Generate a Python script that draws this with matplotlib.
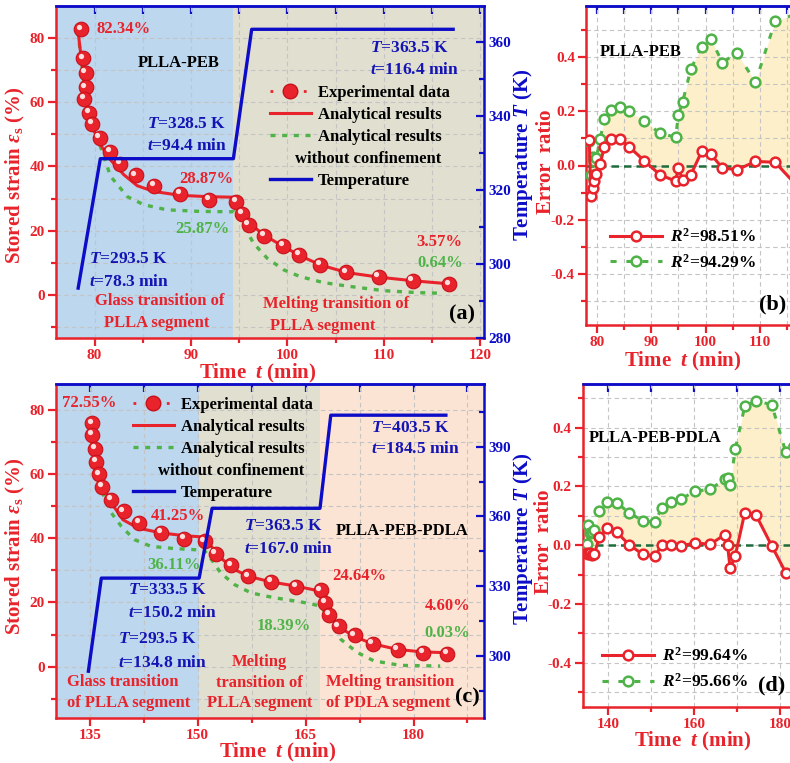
import numpy as np
import matplotlib
matplotlib.use('Agg')
import matplotlib.pyplot as plt
from matplotlib.ticker import MultipleLocator, NullFormatter
from matplotlib.lines import Line2D
import matplotlib.transforms as mtransforms

plt.rcParams['font.family'] = ['Liberation Serif', 'DejaVu Serif']
plt.rcParams['font.weight'] = 'bold'
plt.rcParams['axes.labelweight'] = 'bold'
plt.rcParams['mathtext.fontset'] = 'custom'
plt.rcParams['mathtext.rm'] = 'Liberation Serif:bold'
plt.rcParams['mathtext.it'] = 'Liberation Serif:italic:bold'
plt.rcParams['mathtext.bf'] = 'Liberation Serif:bold'
plt.rcParams['axes.unicode_minus'] = False

# ---------------- data: panel (a) PLLA-PEB ----------------
t_exp_a = [78.62, 78.79, 79.07, 79.07, 78.93, 79.41, 79.76, 80.52, 81.59, 82.69, 84.25, 86.15,
           88.9, 91.85, 94.65, 95.3, 95.99, 97.55, 99.55, 101.24, 103.42, 106.11, 109.46, 113.0, 116.82]
s_exp_a = [82.6, 73.6, 69.1, 64.6, 60.9, 56.7, 53.2, 48.8, 44.6, 40.8, 37.2, 34.0,
           31.5, 29.6, 28.9, 25.2, 21.8, 18.4, 15.4, 12.5, 9.4, 7.1, 5.6, 4.45, 3.4]
t_ana_a = [78.27, 78.72, 79.3, 80.27, 81.66, 83.04, 84.42, 86.15, 88.9, 91.67, 94.65, 95.13,
           96.0, 97.55, 99.6, 101.3, 103.4, 106.2, 109.5, 113.1, 116.9]
s_ana_a = [82.4, 71.0, 57.6, 48.2, 42.0, 37.4, 34.0, 32.2, 31.0, 30.6, 30.4, 26.5,
           22.6, 18.7, 15.1, 12.3, 9.4, 7.0, 5.6, 4.45, 3.5]
t_nc_a = [78.27, 78.9, 79.6, 80.6, 81.66, 83.4, 85.1, 87.5, 91.0, 94.44, 95.13, 96.5,
          97.9, 99.6, 101.3, 103.75, 106.5, 110.0, 113.4, 115.85]
s_nc_a = [81.9, 65.8, 53.4, 46.2, 36.9, 30.6, 28.1, 26.5, 26.0, 25.9, 23.4, 16.1,
          11.5, 7.9, 5.8, 3.9, 2.7, 1.4, 0.8, 0.6]
t_temp_a = [78.3, 80.6, 94.4, 96.3, 117.2]
T_temp_a = [293.5, 328.5, 328.5, 363.5, 363.5]
regions_a = [(76.0, 94.4, '#bdd7ee'), (94.4, 120.4, '#e0dfd0')]

# ---------------- data: panel (b) error ratio PLLA-PEB ----------------
t_err_b = [78.6, 78.9, 79.2, 79.5, 79.9, 80.6, 81.4, 82.6, 84.2, 86.0, 88.7, 91.6, 94.5,
           95.0, 95.8, 97.3, 99.3, 101.0, 103.1, 105.8, 109.2, 112.8, 116.6]
err_red_b = [0.095, -0.111, -0.084, -0.059, -0.03, 0.006, 0.07, 0.098, 0.098, 0.068, 0.018,
             -0.034, -0.058, -0.009, -0.055, -0.034, 0.052, 0.041, -0.009, -0.016, 0.015, 0.012, -0.07]
err_grn_b = [0.09, -0.034, 0.03, 0.018, 0.028, 0.098, 0.172, 0.206, 0.215, 0.2, 0.166,
             0.119, 0.105, 0.185, 0.236, 0.357, 0.44, 0.468, 0.381, 0.416, 0.308, 0.533, 0.56]
r2_b = ['98.51%', '94.29%']

# ---------------- data: panel (c) PLLA-PEB-PDLA ----------------
t_exp_c = [135.3, 135.3, 135.7, 135.9, 136.25, 136.75, 138.0, 139.7, 141.9, 144.9, 148.1,
           150.95, 152.5, 154.6, 157.0, 160.2, 163.7, 167.1, 167.7, 168.3, 169.6, 171.8,
           174.3, 177.8, 181.3, 184.7]
s_exp_c = [75.9, 72.2, 67.9, 63.9, 60.0, 56.0, 52.0, 48.4, 44.8, 41.7, 39.8, 39.1, 35.2,
           31.6, 28.2, 26.4, 24.8, 23.8, 19.9, 16.2, 12.6, 9.8, 7.2, 5.2, 4.35, 4.1]
t_ana_c = [134.86, 135.2, 135.8, 136.6, 138.0, 139.6, 141.7, 144.9, 148.2, 150.95, 151.9,
           153.2, 155.1, 157.0, 160.2, 163.7, 167.1, 167.6, 168.5, 169.6, 171.7, 174.2,
           177.7, 181.2, 184.65]
s_ana_c = [76.4, 70.7, 64.5, 57.2, 51.0, 45.8, 43.2, 41.7, 40.8, 40.4, 37.5, 33.9, 30.3,
           28.2, 26.4, 25.1, 23.5, 20.4, 15.8, 12.4, 9.5, 7.2, 5.4, 4.6, 4.35]
t_nc_c = [134.86, 135.7, 136.6, 138.0, 139.4, 141.2, 143.5, 146.8, 150.9, 151.9, 153.2,
          155.1, 157.4, 160.6, 164.3, 167.1, 168.0, 169.9, 172.2, 174.5, 178.2, 183.7]
s_nc_c = [75.9, 65.5, 55.1, 47.9, 43.7, 39.6, 37.5, 36.8, 36.3, 33.4, 29.2, 25.6, 23.0,
          21.5, 20.2, 18.9, 15.8, 8.5, 4.4, 1.8, 0.4, 0.2]
t_temp_c = [134.8, 136.6, 150.2, 152.0, 167.0, 168.5, 184.5]
T_temp_c = [293.5, 333.5, 333.5, 363.5, 363.5, 403.5, 403.5]
regions_c = [(130.0, 150.2, '#bdd7ee'), (150.2, 167.0, '#e0dfd0'), (167.0, 190.5, '#fbe4d4')]

# ---------------- data: panel (d) error ratio PLLA-PEB-PDLA ----------------
t_err_d = [135.1, 135.3, 135.6, 136.1, 136.7, 137.9, 139.6, 141.9, 144.8, 148.0, 150.9,
           152.4, 154.6, 156.9, 160.2, 163.7, 167.2, 167.8, 168.4, 169.6, 171.8, 174.4,
           178.1, 181.4, 184.7]
err_red_d = [-0.028, -0.03, -0.025, -0.034, -0.031, 0.028, 0.057, 0.045, 0.002, -0.031,
             -0.037, 0.0, 0.002, -0.003, 0.008, 0.003, 0.036, 0.0, -0.079, -0.036, 0.11,
             0.104, -0.002, -0.094, -0.1]
err_grn_d = [0.003, 0.068, 0.04, 0.045, 0.051, 0.116, 0.148, 0.145, 0.111, 0.083, 0.079,
             0.127, 0.148, 0.157, 0.184, 0.19, 0.225, 0.229, 0.204, 0.327, 0.473, 0.491,
             0.479, 0.316, 0.40]
r2_d = ['99.64%', '95.66%']

RED = '#e8232b'
RED_DARK = '#c8101a'
BLUE = '#0d0dc8'
TBLUE = '#1414b4'
GREEN = '#4fb348'
GRID = '#c4c4c4'
FILL = '#fdefc9'
ZERO = '#1e6b3c'
BOLD = 'bold'

W, H = 790, 763
fig = plt.figure(figsize=(W / 100, H / 100), dpi=100)


def axes_px(left, top, width, height):
    return fig.add_axes([left / W, 1 - (top + height) / H, width / W, height / H])


def style_left(ax, xmaj, xmin, ymaj, ymin, topstep):
    ax.xaxis.set_major_locator(MultipleLocator(xmaj))
    ax.xaxis.set_minor_locator(MultipleLocator(xmin))
    ax.yaxis.set_major_locator(MultipleLocator(ymaj))
    ax.yaxis.set_minor_locator(MultipleLocator(ymin))
    ax.grid(True, which='both', color=GRID, ls=(0, (4, 3)), lw=0.8)
    for s in ['left', 'bottom']:
        ax.spines[s].set_color(RED)
        ax.spines[s].set_linewidth(1.8)
    ax.spines['top'].set_color(BLUE)
    ax.spines['top'].set_linewidth(1.8)
    ax.spines['right'].set_visible(False)
    ax.tick_params(which='major', direction='out', length=6, width=1.6, color=RED,
                   labelcolor=RED, labelsize=11, pad=2)
    ax.tick_params(which='minor', direction='out', length=3.5, width=1.6, color=RED)
    ax.tick_params(top=False, right=False, which='both')
    for lab in ax.get_xticklabels() + ax.get_yticklabels():
        lab.set_fontweight(BOLD)
    sec = ax.secondary_xaxis('top')
    sec.xaxis.set_major_locator(MultipleLocator(topstep))
    sec.xaxis.set_major_formatter(NullFormatter())
    sec.tick_params(direction='in', length=6, width=1.6, color=BLUE)
    sec.spines['top'].set_color(BLUE)
    sec.spines['top'].set_linewidth(1.8)


def sphere_points(ax, t, s):
    ax.plot(t, s, 'o', ms=10.5, color=RED, mec=RED_DARK, mew=0.8, zorder=5)
    hl = mtransforms.offset_copy(ax.transData, fig=fig, x=-1.6, y=1.9, units='points')
    ax.plot(t, s, 'o', ms=3.8, color='#ffdede', mec='none', transform=hl, zorder=6)


def temp_axis(ax, t, T, ylim, maj, mnr, label_xy):
    tw = ax.twinx()
    tw.plot(t, T, color=BLUE, lw=2.4, zorder=3)
    tw.set_ylim(*ylim)
    tw.yaxis.set_major_locator(MultipleLocator(maj))
    tw.yaxis.set_minor_locator(MultipleLocator(mnr))
    tw.tick_params(axis='y', which='major', direction='in', length=6, width=1.6, color=BLUE,
                   labelcolor=BLUE, labelsize=11, pad=3)
    tw.tick_params(axis='y', which='minor', direction='in', length=3.5, width=1.6, color=BLUE)
    for s in ['left', 'bottom', 'top']:
        tw.spines[s].set_visible(False)
    tw.spines['right'].set_color(BLUE)
    tw.spines['right'].set_linewidth(1.8)
    tw.set_ylabel('Temperature $T$ (K)', color=BLUE, fontsize=15, fontweight=BOLD)
    tw.yaxis.set_label_coords(*label_xy)
    return tw


def main_legend(tw, anchor):
    handles = [
        Line2D([], [], color=RED, ls=(0, (1, 5)), lw=2, marker='o', ms=10.5, mfc=RED, mec=RED_DARK),
        Line2D([], [], color=RED, lw=2.2),
        Line2D([], [], color=GREEN, ls=(0, (1.5, 2)), lw=2.4),
        Line2D([], [], color='none', lw=0),
        Line2D([], [], color=BLUE, lw=2.4),
    ]
    labels = ['Experimental data', 'Analytical results', 'Analytical results', ' ', 'Temperature']
    leg = tw.legend(handles, labels, loc='upper left', bbox_to_anchor=anchor, frameon=False,
                    prop={'size': 12, 'weight': 'bold'}, handlelength=2.45, handletextpad=0.4,
                    labelspacing=0.36, borderpad=0, borderaxespad=0, numpoints=1)
    texts = leg.get_texts()
    tw.annotate('without confinement', xy=(1.0, 0.5), xycoords=(texts[2], texts[3]),
                ha='right', va='center', fontsize=12, fontweight=BOLD, color='black', zorder=10)
    return leg


def err_legend(ax, labels, anchor):
    handles = [
        Line2D([], [], color=RED, lw=2.2, marker='o', ms=7, mfc='white', mec=RED, mew=1.8),
        Line2D([], [], color=GREEN, lw=2.2, ls=(0, (2, 3.2)), marker='o', ms=7, mfc='white',
               mec=GREEN, mew=1.8),
    ]
    labs = ['$R^2$=' + labels[0], '$R^2$=' + labels[1]]
    ax.legend(handles, labs, loc='upper left', bbox_to_anchor=anchor, frameon=False,
              prop={'size': 12.5, 'weight': 'bold'}, handlelength=3.0, handletextpad=0.45,
              labelspacing=0.45, borderpad=0, borderaxespad=0, numpoints=1)


def txt(ax, x, y, s, color, ha='left', size=12):
    ax.text(x, y, s, color=color, ha=ha, va='center', fontsize=size, fontweight=BOLD, zorder=8)


def labels(ax, xl_xy, yl_text, yl_xy):
    ax.set_xlabel('Time  $t$ (min)', color=RED, fontsize=15, fontweight=BOLD)
    ax.xaxis.set_label_coords(*xl_xy)
    ax.set_ylabel(yl_text, color=RED, fontsize=15, fontweight=BOLD)
    ax.yaxis.set_label_coords(*yl_xy)


# ======================= panel (a) =======================
ax_a = axes_px(56, 6, 428, 332)
for x0, x1, c in regions_a:
    ax_a.axvspan(x0, x1, color=c, lw=0, zorder=0)
ax_a.plot(t_nc_a, s_nc_a, color=GREEN, ls=(0, (1.5, 2)), lw=2.4, zorder=3)
ax_a.plot(t_ana_a, s_ana_a, color=RED, lw=2.2, zorder=4)
sphere_points(ax_a, t_exp_a, s_exp_a)
ax_a.set_xlim(76.0, 120.4)
ax_a.set_ylim(-13.3, 89.8)
style_left(ax_a, 10, 5, 20, 10, 5)
labels(ax_a, (0.472, -0.071), r'Stored strain $\varepsilon_{\rm s}$ (%)', (-0.068, 0.491))
tw_a = temp_axis(ax_a, t_temp_a, T_temp_a, (280, 369.8), 20, 10, (1.064, 0.553))
main_legend(tw_a, (0.50, 0.762))

txt(ax_a, 80.2, 82.6, '82.34%', RED)
txt(ax_a, 88.7, 72.0, 'PLLA-PEB', 'black', ha='center')
txt(ax_a, 85.4, 53.2, '$T$=328.5 K', TBLUE, size=12.5)
txt(ax_a, 85.4, 46.2, '$t$=94.4 min', TBLUE, size=12.5)
txt(ax_a, 88.8, 36.1, '28.87%', RED)
txt(ax_a, 88.4, 20.5, '25.87%', GREEN)
txt(ax_a, 79.4, 11.2, '$T$=293.5 K', TBLUE, size=12.5)
txt(ax_a, 79.4, 4.2, '$t$=78.3 min', TBLUE, size=12.5)
txt(ax_a, 86.8, -1.8, 'Glass transition of', RED, ha='center')
txt(ax_a, 86.4, -8.6, 'PLLA segment', RED, ha='center')
txt(ax_a, 108.6, 76.7, '$T$=363.5 K', TBLUE, size=12.5)
txt(ax_a, 108.6, 70.0, '$t$=116.4 min', TBLUE, size=12.5)
txt(ax_a, 118.2, 16.5, '3.57%', RED, ha='right')
txt(ax_a, 118.2, 9.9, '0.64%', GREEN, ha='right')
txt(ax_a, 105.1, -2.7, 'Melting transition of', RED, ha='center')
txt(ax_a, 103.7, -9.5, 'PLLA segment', RED, ha='center')
txt(ax_a, 118.1, -6.1, '(a)', 'black', ha='center', size=16)

# ======================= panel (b) =======================
ax_b = axes_px(586, 6, 220, 319)
ax_b.fill_between(t_err_b, err_red_b, err_grn_b, color=FILL, lw=0, zorder=1)
ax_b.axhline(0, color=ZERO, ls=(0, (3, 2)), lw=1.8, zorder=2)
ax_b.plot(t_err_b, err_grn_b, color=GREEN, lw=2.2, ls=(0, (2, 3.2)), marker='o', ms=7,
          mfc='white', mec=GREEN, mew=1.8, zorder=3)
ax_b.plot(t_err_b, err_red_b, color=RED, lw=2.2, marker='o', ms=7, mfc='white', mec=RED,
          mew=1.8, zorder=4)
ax_b.set_xlim(78.0, 118.5)
ax_b.set_ylim(-0.59, 0.59)
style_left(ax_b, 10, 5, 0.2, 0.1, 5)
labels(ax_b, (0.44, -0.078), 'Error  ratio', (-0.137, 0.511))
err_legend(ax_b, r2_b, (0.11, 0.305))
txt(ax_b, 80.6, 0.418, 'PLLA-PEB', 'black')
txt(ax_b, 109.8, -0.513, '(b)', 'black', size=16)

# ======================= panel (c) =======================
ax_c = axes_px(56, 384, 428, 334)
for x0, x1, c in regions_c:
    ax_c.axvspan(x0, x1, color=c, lw=0, zorder=0)
ax_c.plot(t_nc_c, s_nc_c, color=GREEN, ls=(0, (1.5, 2)), lw=2.4, zorder=3)
ax_c.plot(t_ana_c, s_ana_c, color=RED, lw=2.2, zorder=4)
sphere_points(ax_c, t_exp_c, s_exp_c)
ax_c.set_xlim(130.3, 189.8)
ax_c.set_ylim(-16.0, 88.1)
style_left(ax_c, 15, 7.5, 20, 10, 7.5)
labels(ax_c, (0.519, -0.07), r'Stored strain $\varepsilon_{\rm s}$ (%)', (-0.068, 0.515))
tw_c = temp_axis(ax_c, t_temp_c, T_temp_c, (273.4, 416.9), 30, 15, (1.063, 0.536))
main_legend(tw_c, (0.18, 0.962))

txt(ax_c, 131.1, 82.1, '72.55%', RED)
txt(ax_c, 143.5, 47.0, '41.25%', RED)
txt(ax_c, 143.0, 31.6, '36.11%', GREEN)
txt(ax_c, 140.3, 23.8, '$T$=333.5 K', TBLUE, size=12.5)
txt(ax_c, 140.3, 16.8, '$t$=150.2 min', TBLUE, size=12.5)
txt(ax_c, 138.9, 8.5, '$T$=293.5 K', TBLUE, size=12.5)
txt(ax_c, 138.9, 1.2, '$t$=134.8 min', TBLUE, size=12.5)
txt(ax_c, 156.5, 43.7, '$T$=363.5 K', TBLUE, size=12.5)
txt(ax_c, 156.5, 36.7, '$t$=167.0 min', TBLUE, size=12.5)
txt(ax_c, 169.2, 42.2, 'PLLA-PEB-PDLA', 'black')
txt(ax_c, 168.7, 28.2, '24.64%', RED)
txt(ax_c, 158.2, 12.6, '18.39%', GREEN)
txt(ax_c, 174.1, 74.5, '$T$=403.5 K', TBLUE, size=12.5)
txt(ax_c, 174.1, 67.8, '$t$=184.5 min', TBLUE, size=12.5)
txt(ax_c, 187.9, 18.9, '4.60%', RED, ha='right')
txt(ax_c, 187.9, 10.4, '0.03%', GREEN, ha='right')
txt(ax_c, 131.8, -4.8, 'Glass transition', RED)
txt(ax_c, 131.8, -11.4, 'of PLLA segment', RED)
txt(ax_c, 158.6, 1.5, 'Melting', RED, ha='center')
txt(ax_c, 158.6, -5.0, 'transition of', RED, ha='center')
txt(ax_c, 158.6, -11.4, 'PLLA segment', RED, ha='center')
txt(ax_c, 167.8, -4.8, 'Melting transition', RED)
txt(ax_c, 167.8, -11.4, 'of PDLA segment', RED)
txt(ax_c, 187.5, -9.6, '(c)', 'black', ha='center', size=16)

# ======================= panel (d) =======================
ax_d = axes_px(582.7, 384, 240, 322.7)
ax_d.fill_between(t_err_d, err_red_d, err_grn_d, color=FILL, lw=0, zorder=1)
ax_d.axhline(0, color=ZERO, ls=(0, (3, 2)), lw=1.8, zorder=2)
ax_d.plot(t_err_d, err_grn_d, color=GREEN, lw=2.2, ls=(0, (2, 3.2)), marker='o', ms=7,
          mfc='white', mec=GREEN, mew=1.8, zorder=3)
ax_d.plot(t_err_d, err_red_d, color=RED, lw=2.2, marker='o', ms=7, mfc='white', mec=RED,
          mew=1.8, zorder=4)
ax_d.set_xlim(134.0, 190.0)
ax_d.set_ylim(-0.55, 0.549)
style_left(ax_d, 20, 10, 0.2, 0.1, 10)
labels(ax_d, (0.46, -0.072), 'Error  ratio', (-0.119, 0.511))
err_legend(ax_d, r2_d, (0.08, 0.185))
txt(ax_d, 135.3, 0.365, 'PLLA-PEB-PDLA', 'black')
txt(ax_d, 175.0, -0.477, '(d)', 'black', size=16)

fig.savefig('out.png', dpi=100)
